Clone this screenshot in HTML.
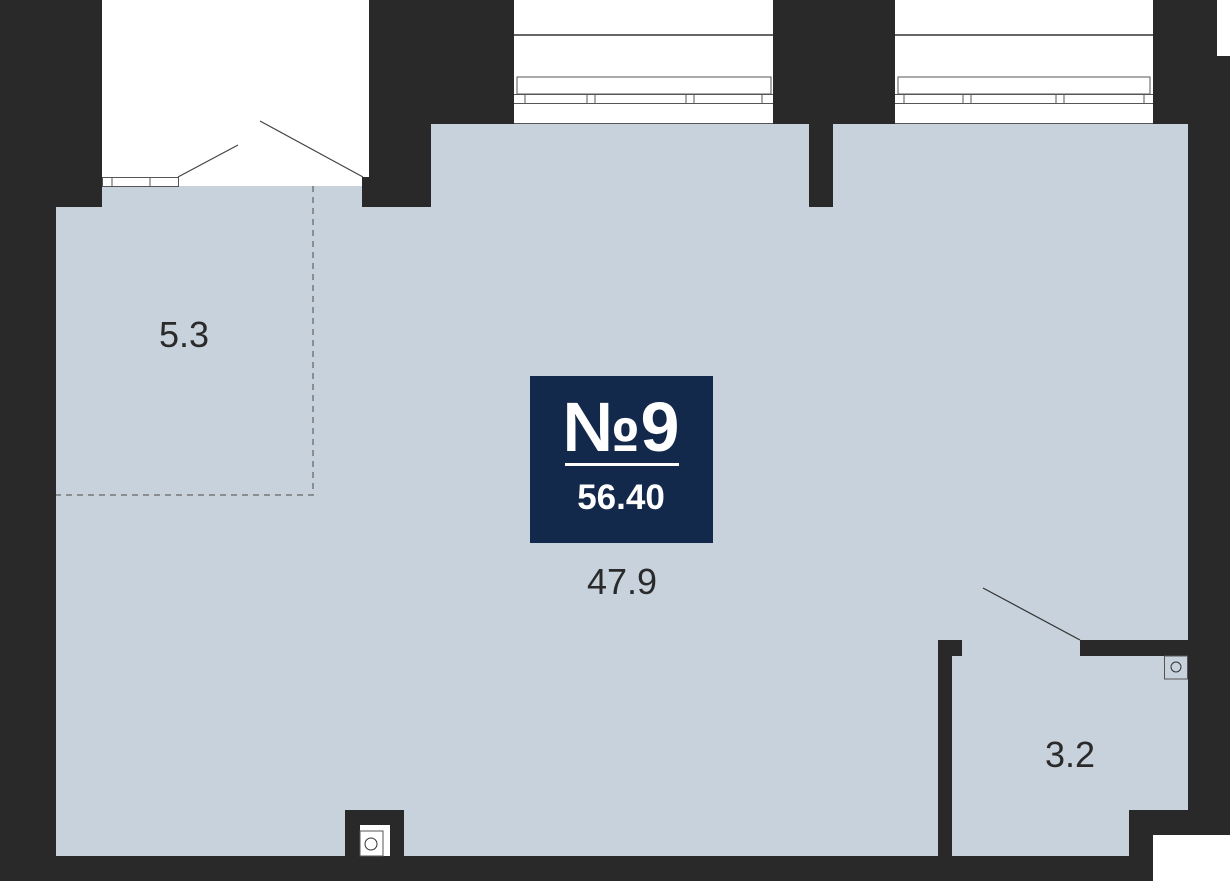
<!DOCTYPE html>
<html><head><meta charset="utf-8"><style>html,body{margin:0;padding:0;background:#292929}svg{display:block}</style></head>
<body>
<svg width="1230" height="881" viewBox="0 0 1230 881" xmlns="http://www.w3.org/2000/svg">
<rect x="0" y="0" width="1230" height="881" fill="#292929"/>
<polygon points="56,207 102,207 102,186 362,186 362,207 431,207 431,124 1188,124 1188,810 1129,810 1129,856 56,856" fill="#c8d2dc"/>
<rect x="809" y="124" width="24" height="83" fill="#292929"/>
<rect x="938" y="640" width="14" height="216" fill="#292929"/>
<rect x="938" y="640" width="24" height="16" fill="#292929"/>
<rect x="1080" y="640" width="108" height="16" fill="#292929"/>
<rect x="345" y="810" width="59" height="46" fill="#292929"/>
<rect x="360" y="825" width="30" height="31" fill="#fff"/>
<rect x="360" y="831" width="23" height="25" fill="#fff" stroke="#555" stroke-width="1"/>
<circle cx="371" cy="844" r="6" fill="none" stroke="#333" stroke-width="1"/>
<rect x="1164.5" y="656" width="23" height="23" fill="#c8d2dc" stroke="#555" stroke-width="1"/>
<circle cx="1176" cy="667" r="5" fill="none" stroke="#333" stroke-width="1"/>
<rect x="102" y="0" width="267" height="177" fill="#fff"/>
<rect x="102" y="177" width="260" height="9" fill="#fff"/>
<rect x="1217" y="0" width="13" height="56" fill="#fff"/>
<rect x="1153" y="835" width="77" height="46" fill="#fff"/>
<rect x="102.5" y="177.5" width="76" height="9" fill="#fff" stroke="#555" stroke-width="1"/>
<line x1="112" y1="177" x2="112" y2="186" stroke="#555"/>
<line x1="150" y1="177" x2="150" y2="186" stroke="#555"/>
<line x1="178" y1="177" x2="238" y2="145" stroke="#444" stroke-width="1.2"/>
<line x1="260" y1="121" x2="363" y2="177" stroke="#444" stroke-width="1.2"/>
<g stroke="#555" stroke-width="1" fill="#fff">
<rect x="514" y="0" width="259" height="124" stroke="none"/>
<line x1="514" y1="35" x2="773" y2="35" stroke="#333" stroke-width="1.5"/>
<rect x="517" y="77" width="254" height="17"/>
<line x1="514" y1="94.5" x2="773" y2="94.5"/>
<line x1="514" y1="103.5" x2="773" y2="103.5"/>
<line x1="525" y1="94" x2="525" y2="103"/><line x1="587" y1="94" x2="587" y2="103"/><line x1="595" y1="94" x2="595" y2="103"/><line x1="686" y1="94" x2="686" y2="103"/><line x1="694" y1="94" x2="694" y2="103"/><line x1="762" y1="94" x2="762" y2="103"/>
<line x1="514" y1="123.5" x2="773" y2="123.5"/>
</g>
<g stroke="#555" stroke-width="1" fill="#fff">
<rect x="895" y="0" width="258" height="124" stroke="none"/>
<line x1="895" y1="35" x2="1153" y2="35" stroke="#333" stroke-width="1.5"/>
<rect x="898" y="77" width="252" height="17"/>
<line x1="895" y1="94.5" x2="1153" y2="94.5"/>
<line x1="895" y1="103.5" x2="1153" y2="103.5"/>
<line x1="904" y1="94" x2="904" y2="103"/><line x1="963" y1="94" x2="963" y2="103"/><line x1="971" y1="94" x2="971" y2="103"/><line x1="1056" y1="94" x2="1056" y2="103"/><line x1="1064" y1="94" x2="1064" y2="103"/><line x1="1144" y1="94" x2="1144" y2="103"/>
<line x1="895" y1="123.5" x2="1153" y2="123.5"/>
</g>
<polyline points="313,186 313,495 56,495" fill="none" stroke="#777" stroke-width="1.5" stroke-dasharray="6,5"/>
<line x1="983" y1="588" x2="1080" y2="640" stroke="#333" stroke-width="1.2"/>
<rect x="530" y="376" width="183" height="167" fill="#13294b"/>
<text x="621" y="451" text-anchor="middle" font-family="Liberation Sans, sans-serif" font-weight="bold" font-size="70" fill="#fff">№9</text>
<rect x="565" y="463" width="114" height="3" fill="#fff"/>
<text x="621" y="509" text-anchor="middle" font-family="Liberation Sans, sans-serif" font-weight="bold" font-size="35" fill="#fff">56.40</text>
<g font-family="Liberation Sans, sans-serif" font-size="36" fill="#2a2a2a" text-anchor="middle">
<text x="184" y="347">5.3</text>
<text x="622" y="594">47.9</text>
<text x="1070" y="767">3.2</text>
</g>
</svg>
</body></html>
